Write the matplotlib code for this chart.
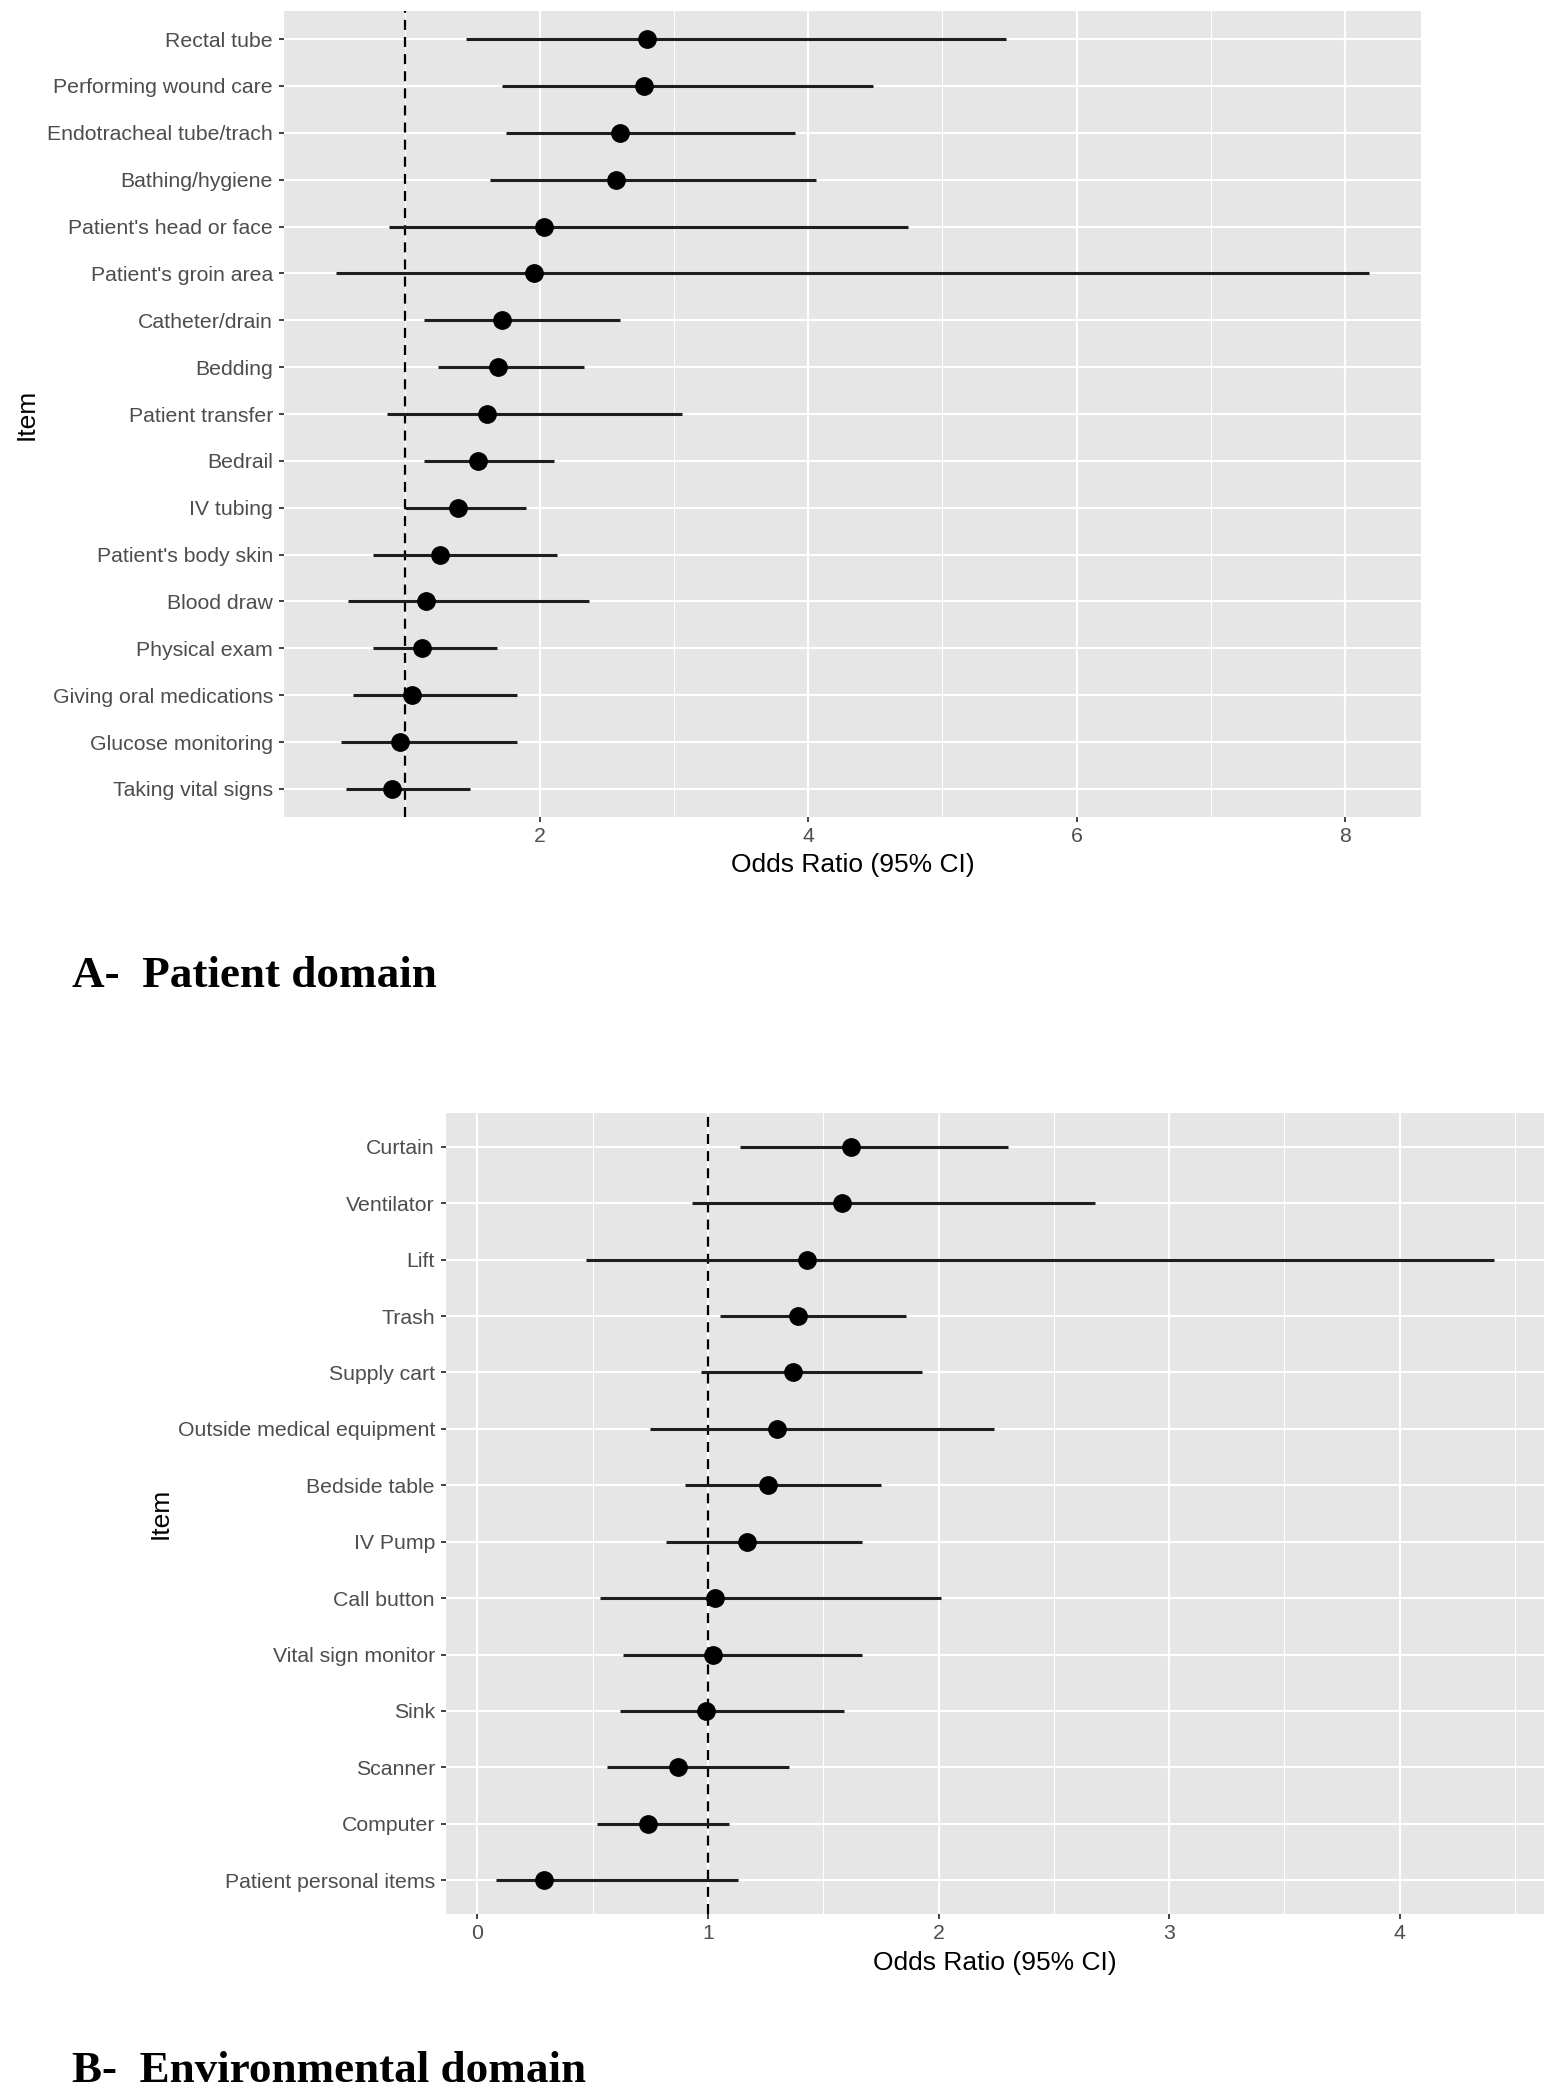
import matplotlib
matplotlib.use("Agg")
import matplotlib.pyplot as plt
from matplotlib.ticker import FixedLocator

# ---------------- data (top-to-bottom order as displayed) ----------------
patient_items = ["Rectal tube", "Performing wound care", "Endotracheal tube/trach",
                 "Bathing/hygiene", "Patient's head or face", "Patient's groin area",
                 "Catheter/drain", "Bedding", "Patient transfer", "Bedrail", "IV tubing",
                 "Patient's body skin", "Blood draw", "Physical exam",
                 "Giving oral medications", "Glucose monitoring", "Taking vital signs"]
patient_or = [2.80, 2.78, 2.60, 2.57, 2.03, 1.96, 1.72, 1.69, 1.61, 1.54, 1.39,
              1.26, 1.15, 1.12, 1.05, 0.96, 0.90]
patient_lo = [1.45, 1.72, 1.75, 1.63, 0.88, 0.48, 1.14, 1.24, 0.86, 1.14, 1.00,
              0.76, 0.57, 0.76, 0.61, 0.52, 0.56]
patient_hi = [5.47, 4.48, 3.90, 4.06, 4.74, 8.18, 2.60, 2.33, 3.06, 2.11, 1.90,
              2.13, 2.37, 1.68, 1.83, 1.83, 1.48]
patient_ticks = [2, 4, 6, 8]
patient_minor = [1, 3, 5, 7]

env_items = ["Curtain", "Ventilator", "Lift", "Trash", "Supply cart",
             "Outside medical equipment", "Bedside table", "IV Pump", "Call button",
             "Vital sign monitor", "Sink", "Scanner", "Computer", "Patient personal items"]
env_or = [1.62, 1.58, 1.43, 1.39, 1.37, 1.30, 1.26, 1.17, 1.03, 1.02, 0.99, 0.87, 0.74, 0.29]
env_lo = [1.14, 0.93, 0.47, 1.05, 0.97, 0.75, 0.90, 0.82, 0.53, 0.63, 0.62, 0.56, 0.52, 0.08]
env_hi = [2.30, 2.68, 4.41, 1.86, 1.93, 2.24, 1.75, 1.67, 2.01, 1.67, 1.59, 1.35, 1.09, 1.13]
env_ticks = [0, 1, 2, 3, 4]
env_minor = [0.5, 1.5, 2.5, 3.5, 4.5]

ref_line = 1.0
x_title = "Odds Ratio (95% CI)"
y_title = "Item"
panel_a_caption = "A-  Patient domain"
panel_b_caption = "B-  Environmental domain"

# ---------------- style ----------------
W, H, DPI = 1563, 2100, 100
BG = "#E6E6E6"
SANS = ["Liberation Sans", "DejaVu Sans"]
plt.rcParams["font.family"] = SANS

fig = plt.figure(figsize=(W / DPI, H / DPI), dpi=DPI)
fig.patch.set_facecolor("white")


def px_axes(left, top, right, bottom):
    return fig.add_axes([left / W, 1 - bottom / H, (right - left) / W, (bottom - top) / H])


def forest(ax, items, ors, los, his, ticks, minors, xlab_y, ylab_x):
    n = len(items)
    ys = list(range(n))
    lo_all, hi_all = min(los), max(his)
    r = hi_all - lo_all
    ax.set_xlim(lo_all - 0.05 * r, hi_all + 0.05 * r)
    ax.set_ylim(n - 1 + 0.6, -0.6)
    ax.set_facecolor(BG)
    for s in ax.spines.values():
        s.set_visible(False)

    ax.xaxis.set_major_locator(FixedLocator(ticks))
    ax.xaxis.set_minor_locator(FixedLocator(minors))
    ax.set_xticklabels([str(t) for t in ticks])
    ax.set_yticks(ys)
    ax.set_yticklabels(items)

    ax.grid(which="major", axis="both", color="white", linewidth=1.5, zorder=0)
    ax.grid(which="minor", axis="x", color="white", linewidth=0.75, zorder=0)
    ax.set_axisbelow(True)

    ax.tick_params(axis="both", which="major", length=3.5, width=1.3, color="#333333",
                   labelcolor="#4D4D4D", labelsize=15.3, pad=4.5)
    ax.tick_params(axis="x", which="major", pad=4)
    ax.tick_params(axis="both", which="minor", length=0)

    ax.axvline(ref_line, color="black", linewidth=1.6, linestyle=(0, (4.5, 3.2)), zorder=2)
    ax.hlines(ys, los, his, color="#1E1E1E", linewidth=2.2, zorder=3)
    ax.plot(ors, ys, "o", color="black", markersize=12.5, zorder=4)

    ax.set_xlabel(x_title, fontsize=19, color="black")
    ax.xaxis.set_label_coords(0.5, xlab_y)
    ax.xaxis.label.set_va("center")
    ax.set_ylabel(y_title, fontsize=19, color="black")
    ax.yaxis.set_label_coords(ylab_x, 0.5)
    ax.yaxis.label.set_va("center")


ax_a = px_axes(284, 11, 1421, 817)
forest(ax_a, patient_items, patient_or, patient_lo, patient_hi,
       patient_ticks, patient_minor, -0.0596, -0.226)

ax_b = px_axes(446, 1113, 1544, 1914)
forest(ax_b, env_items, env_or, env_lo, env_hi,
       env_ticks, env_minor, -0.0612, -0.2596)

fig.text(72 / W, 1 - 987 / H, panel_a_caption, fontsize=32.5, fontweight="bold",
         family=["Liberation Serif", "DejaVu Serif"], ha="left", va="baseline")
fig.text(72 / W, 1 - 2082 / H, panel_b_caption, fontsize=32.5, fontweight="bold",
         family=["Liberation Serif", "DejaVu Serif"], ha="left", va="baseline")

fig.savefig("out.png", dpi=DPI, facecolor="white")
